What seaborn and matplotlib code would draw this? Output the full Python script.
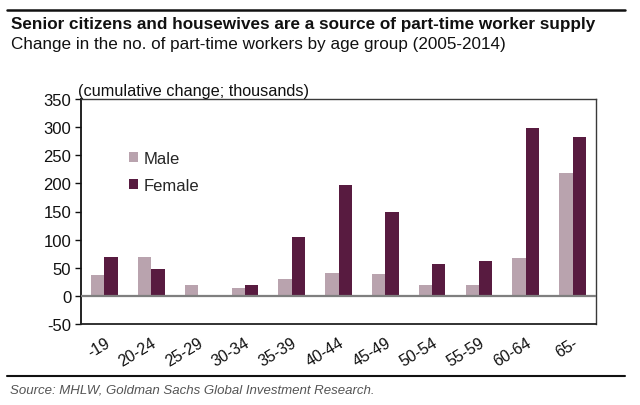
import matplotlib
matplotlib.use("Agg")
import matplotlib.pyplot as plt
import seaborn as sns
import pandas as pd
from matplotlib.lines import Line2D
from matplotlib.patches import Patch

categories = ["-19", "20-24", "25-29", "30-34", "35-39", "40-44", "45-49",
              "50-54", "55-59", "60-64", "65-"]
male = [37, 70, 20, 14, 30, 40, 39, 19, 20, 68, 218]
female = [70, 47, 0, 20, 105, 197, 150, 56, 62, 298, 282]
series = ["Male", "Female"]
yticks = [-50, 0, 50, 100, 150, 200, 250, 300, 350]

title = "Senior citizens and housewives are a source of part-time worker supply"
subtitle = "Change in the no. of part-time workers by age group (2005-2014)"
unit = "(cumulative change; thousands)"
source = "Source: MHLW, Goldman Sachs Global Investment Research."

colors = {"Male": "#b9a3ae", "Female": "#581b40"}

df = pd.DataFrame({
    "age": categories * 2,
    "value": male + female,
    "sex": ["Male"] * len(categories) + ["Female"] * len(categories),
})

sns.set_style("white")
plt.rcParams["font.family"] = ["Liberation Sans", "DejaVu Sans"]
plt.rcParams["axes.unicode_minus"] = False

W, H = 640, 406
fig = plt.figure(figsize=(W / 100, H / 100), dpi=100)
ax = fig.add_axes([81 / W, 1 - 325 / H, (596 - 81) / W, (325 - 100) / H])

sns.barplot(data=df, x="age", y="value", hue="sex", hue_order=series,
            order=categories, palette=colors, width=0.57, saturation=1,
            edgecolor="none", linewidth=0, ax=ax, legend=False)

ax.set_ylim(-50, 350)
ax.set_yticks(yticks)
ax.set_xlim(-0.5, len(categories) - 0.5)
ax.axhline(0, color="#7f7f7f", lw=1.6, zorder=3)
ax.set_xlabel("")
ax.set_ylabel("")
for s in ax.spines.values():
    s.set_visible(True)
    s.set_color("#3a3a3a")
    s.set_linewidth(1.0)
ax.spines["left"].set_color("#111111")
ax.spines["left"].set_linewidth(1.3)
ax.spines["bottom"].set_color("#222222")
ax.spines["bottom"].set_linewidth(1.3)

ax.tick_params(axis="y", which="both", left=True, length=4, width=1,
               color="#111111", labelsize=12, pad=3, labelcolor="#111111")
ax.tick_params(axis="x", bottom=False, labelsize=11.5, pad=4,
               labelcolor="#111111")
for lab in ax.get_xticklabels():
    lab.set_rotation(31)
    lab.set_ha("right")
    lab.set_va("top")
    lab.set_rotation_mode("anchor")

# legend
handles = [Patch(facecolor=colors[s], edgecolor="none") for s in series]
ax.legend(handles, series, loc="upper left", bbox_to_anchor=(0.08, 0.80),
          frameon=False, fontsize=12, handlelength=0.55, handleheight=0.6,
          handletextpad=0.35, labelspacing=0.72, borderaxespad=0)

# texts
renderer = fig.canvas.get_renderer()

def fit_text(x, y, s, target_px, size, **kw):
    t = fig.text(x, y, s, fontsize=size, **kw)
    w = t.get_window_extent(renderer=renderer).width
    t.set_fontsize(size * target_px / w)
    return t

fit_text(11 / W, 1 - 29 / H, title, 586, 11, fontweight="bold",
         va="baseline", ha="left", color="#111111")
fit_text(11 / W, 1 - 49 / H, subtitle, 492, 11, va="baseline", ha="left",
         color="#111111")
fit_text(78 / W, 1 - 96 / H, unit, 230, 11, va="baseline", ha="left",
         color="#111111")
fit_text(10 / W, 1 - 394 / H, source, 367, 9, va="baseline", ha="left",
         style="italic", color="#555555")

fig.add_artist(Line2D([7 / W, 625 / W], [1 - 11 / H, 1 - 11 / H],
                      transform=fig.transFigure, color="#111111", lw=1.8))
fig.add_artist(Line2D([7 / W, 625 / W], [1 - 377 / H, 1 - 377 / H],
                      transform=fig.transFigure, color="#111111", lw=1.5))

fig.savefig("out.png", dpi=100, facecolor="white")
